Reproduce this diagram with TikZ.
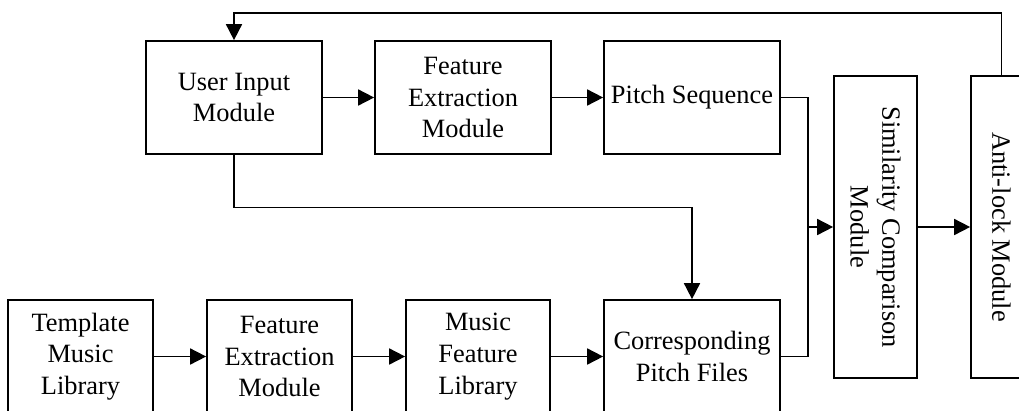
\documentclass[tikz,border=0pt]{standalone}
\usepackage{fontspec}
\setmainfont{Liberation Serif}
\usetikzlibrary{arrows.meta}
\begin{document}
\begin{tikzpicture}[x=1pt,y=-1pt,
  box/.style={draw,line width=1.7pt,align=center,inner sep=0pt,
    font=\fontsize{26.4}{31.7}\selectfont},
  conn/.style={line width=1.7pt},
  arr/.style={line width=1.7pt,-{Triangle[length=16pt,width=16pt]}}]
\useasboundingbox (0,0) rectangle (1019,410);
\clip (0,0) rectangle (1019,410);
% top row
\node[box,minimum width=176pt,minimum height=113pt] (ui) at (234,97.5) {User Input\\Module};
\node[box,minimum width=176pt,minimum height=113pt] (fe1) at (463,97.5) {Feature\\Extraction\\Module};
\node[box,minimum width=176pt,minimum height=113pt] (ps) at (692,97.5) {Pitch Sequence};
% vertical boxes
\node[box,minimum width=302pt,minimum height=83pt,rotate=-90] (sim) at (875.5,227) {Similarity Comparison\\Module};
\node[box,minimum width=302pt,minimum height=61pt,rotate=-90] (anti) at (1001.5,227) {Anti-lock Module};
% bottom row
\node[box,minimum width=145pt,minimum height=113pt] (tml) at (80.5,356.5) {Template\\Music\\Library};
\node[box,minimum width=145pt,minimum height=113pt] (fe2) at (279.5,356.5) {Feature\\Extraction\\Module};
\node[box,minimum width=144pt,minimum height=113pt] (mfl) at (478,356.5) {Music\\Feature\\Library};
\node[box,minimum width=176pt,minimum height=113pt] (cpf) at (692,356.5) {Corresponding\\Pitch Files};
% coordinates
\coordinate (jx) at (808,227);
\coordinate (top) at (0,12.7);
\coordinate (mid) at (0,207.5);
% connectors
\draw[arr] (ui) -- (fe1);
\draw[arr] (fe1) -- (ps);
\draw[conn] (ps.east) -| (jx) |- (cpf.east);
\draw[arr] (jx) -- (sim);
\draw[arr] (sim) -- (anti);
\draw[arr] (anti.west) -- (anti.west |- top) -- (ui.north |- top) -- (ui.north);
\draw[arr] (ui.south) -- (ui.south |- mid) -- (cpf.north |- mid) -- (cpf.north);
\draw[arr] (tml) -- (fe2);
\draw[arr] (fe2) -- (mfl);
\draw[arr] (mfl) -- (cpf);
\end{tikzpicture}
\end{document}
